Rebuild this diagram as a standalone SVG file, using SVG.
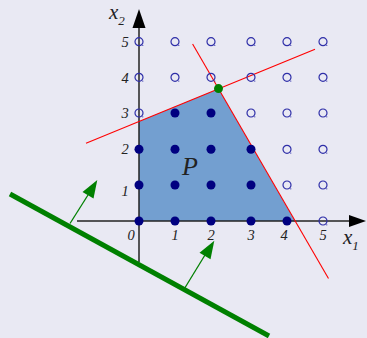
<svg xmlns="http://www.w3.org/2000/svg" width="367" height="338" viewBox="0 0 367 338">
<style>
.t{font-family:"Liberation Serif","Times New Roman",serif;font-style:italic;fill:#222}
.n{font-size:14.5px;text-anchor:middle}
.red{stroke:#ff0000;stroke-width:1.1;fill:none}
.full{fill:#000080}
.ax{stroke:#222;stroke-width:1.5;fill:none}
</style>
<defs>
<g id="h"><circle r="4" fill="none" stroke="#2f2fa8" stroke-width="1.2"/><circle cx="3.8" cy="3.8" r="0.6" fill="#2f2fa8"/></g>
</defs>
<rect width="367" height="338" fill="#e9e9f3"/>
<g id="polytope">
<polygon points="139,221 139,121.5 218.5,88.8 295,221" fill="#739fd0"/>
<text class="t" x="182" y="175" font-size="26">P</text>
</g>
<g id="axes">
<line class="ax" x1="77" y1="221" x2="350" y2="221"/>
<polygon points="349,215 366,221 349,227" fill="#000"/>
<line class="ax" x1="139" y1="262" x2="139" y2="27"/>
<polygon points="132.5,28 139,9 145.5,28" fill="#000"/>
<text class="t" x="109" y="19" font-size="21">x<tspan font-size="13" dy="6">2</tspan></text>
<text class="t" x="343" y="244" font-size="21">x<tspan font-size="13" dy="6">1</tspan></text>
<text class="t n" x="131" y="240">0</text>
<text class="t n" x="175" y="240">1</text>
<text class="t n" x="211" y="240">2</text>
<text class="t n" x="251" y="240">3</text>
<text class="t n" x="284" y="240">4</text>
<text class="t n" x="323" y="240">5</text>
<text class="t n" x="125" y="196">1</text>
<text class="t n" x="125" y="154">2</text>
<text class="t n" x="125" y="118">3</text>
<text class="t n" x="125" y="83">4</text>
<text class="t n" x="125" y="47">5</text>
</g>
<g id="connectors">
<line class="red" x1="86" y1="143.3" x2="315" y2="49.3"/>
<line class="red" x1="192.6" y1="44" x2="328.5" y2="278.5"/>
<line x1="10" y1="194" x2="269" y2="336" stroke="#008000" stroke-width="5"/>
<line x1="70" y1="223.5" x2="88" y2="195" stroke="#008000" stroke-width="1.3"/>
<polygon points="97.3,180 93.5,198.5 82.5,192" fill="#008000"/>
<line x1="184.5" y1="288.5" x2="205" y2="255" stroke="#008000" stroke-width="1.3"/>
<polygon points="214.3,240.7 210.5,259.3 199.5,252.8" fill="#008000"/>
</g>
<g id="points">
<circle class="full" cx="139" cy="221" r="4.5"/>
<circle class="full" cx="175" cy="221" r="4.5"/>
<circle class="full" cx="211" cy="221" r="4.5"/>
<circle class="full" cx="251" cy="221" r="4.5"/>
<circle class="full" cx="287" cy="221" r="4.5"/>
<circle class="full" cx="139" cy="185" r="4.5"/>
<circle class="full" cx="175" cy="185" r="4.5"/>
<circle class="full" cx="211" cy="185" r="4.5"/>
<circle class="full" cx="251" cy="185" r="4.5"/>
<circle class="full" cx="139" cy="149.3" r="4.5"/>
<circle class="full" cx="175" cy="149.3" r="4.5"/>
<circle class="full" cx="211" cy="149.3" r="4.5"/>
<circle class="full" cx="251" cy="149.3" r="4.5"/>
<circle class="full" cx="175" cy="113" r="4.5"/>
<circle class="full" cx="211" cy="113" r="4.5"/>
<use href="#h" x="323" y="221"/>
<use href="#h" x="287" y="185"/><use href="#h" x="323" y="185"/>
<use href="#h" x="287" y="149.3"/><use href="#h" x="323" y="149.3"/>
<use href="#h" x="139" y="113"/><use href="#h" x="251" y="113"/><use href="#h" x="287" y="113"/><use href="#h" x="323" y="113"/>
<use href="#h" x="139" y="77.3"/><use href="#h" x="175" y="77.3"/><use href="#h" x="211" y="77.3"/><use href="#h" x="251" y="77.3"/><use href="#h" x="287" y="77.3"/><use href="#h" x="323" y="77.3"/>
<use href="#h" x="139" y="41.7"/><use href="#h" x="175" y="41.7"/><use href="#h" x="211" y="41.7"/><use href="#h" x="251" y="41.7"/><use href="#h" x="287" y="41.7"/><use href="#h" x="323" y="41.7"/>
<circle cx="218.5" cy="88.6" r="4.5" fill="#008000"/>
</g>
</svg>
